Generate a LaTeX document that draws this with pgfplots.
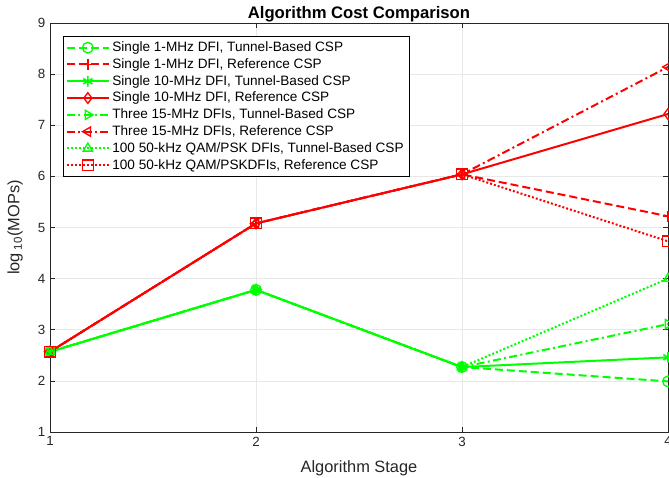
\documentclass[border=0pt]{standalone}
\usepackage{fontspec}
\setmainfont{Liberation Sans}
\usepackage{pgfplots}
\pgfplotsset{compat=1.18}
\definecolor{axgray}{gray}{0.15}
\definecolor{mgreen}{rgb}{0,1,0}
\definecolor{mred}{rgb}{1,0,0}
\begin{document}
\begin{tikzpicture}
\useasboundingbox (0,0) rectangle (501.75pt,358.5pt);
\begin{axis}[
  at={(37.5pt,34.5pt)}, anchor=south west,
  scale only axis, width=463.5pt, height=306.75pt,
  xmin=1, xmax=4, ymin=1, ymax=9,
  xtick={1,2,3,4}, ytick={1,2,3,4,5,6,7,8,9},
  grid=major, major grid style={gray!18, line width=0.5pt},
  tick align=inside, major tick length=4pt,
  axis line style={axgray, line width=0.5pt},
  tick style={axgray, line width=0.5pt},
  every tick label/.append style={text=axgray, font=\fontsize{10}{12}\selectfont},
  /pgf/number format/assume math mode=true,
  title={\fontsize{12.5}{14}\selectfont\bfseries Algorithm Cost Comparison},
  title style={at={(0.5,1)}, anchor=base, yshift=-2.25pt},
  xlabel={Algorithm Stage},
  ylabel={log\,\textsubscript{10}(MOPs)},
  label style={font=\fontsize{12.3}{14}\selectfont, text=axgray},
  xlabel style={yshift=-4pt},
  ylabel style={yshift=4.5pt},
  every axis plot/.append style={line width=1.5pt, mark size=4pt},
  legend style={at={(0.021,0.968)}, anchor=north west, draw=black, line width=0.5pt,
    font=\fontsize{10.2}{12}\selectfont, cells={anchor=west}, row sep=-0.3pt, inner sep=2pt},
  legend image code/.code={\draw[mark repeat=2,mark phase=2] plot coordinates {(0cm,0cm) (0.55cm,0cm) (1.1cm,0cm)};},
]
\addplot[mgreen, dash pattern=on 6pt off 3pt, mark=o, mark options={solid, line width=1pt}] coordinates {(1,2.57) (2,3.78) (3,2.27) (4,1.99)};
\addlegendentry{Single 1-MHz DFI, Tunnel-Based CSP}
\addplot[mred, dash pattern=on 6pt off 3pt, mark=+, mark options={solid, line width=1.2pt}] coordinates {(1,2.57) (2,5.08) (3,6.04) (4,5.22)};
\addlegendentry{Single 1-MHz DFI, Reference CSP}
\addplot[mgreen, solid, mark=asterisk, mark options={solid, line width=1.2pt}] coordinates {(1,2.57) (2,3.78) (3,2.27) (4,2.46)};
\addlegendentry{Single 10-MHz DFI, Tunnel-Based CSP}
\addplot[mred, solid, mark=diamond, mark options={solid, line width=1pt}] coordinates {(1,2.57) (2,5.08) (3,6.04) (4,7.22)};
\addlegendentry{Single 10-MHz DFI, Reference CSP}
\addplot[mgreen, dash pattern=on 6pt off 2.5pt on 1.5pt off 2.5pt, mark=triangle, mark options={solid, line width=1pt, rotate=-90}] coordinates {(1,2.57) (2,3.78) (3,2.27) (4,3.11)};
\addlegendentry{Three 15-MHz DFIs, Tunnel-Based CSP}
\addplot[mred, dash pattern=on 6pt off 2.5pt on 1.5pt off 2.5pt, mark=triangle, mark options={solid, line width=1pt, rotate=90}] coordinates {(1,2.57) (2,5.08) (3,6.04) (4,8.14)};
\addlegendentry{Three 15-MHz DFIs, Reference CSP}
\addplot[mgreen, dash pattern=on 1.5pt off 1.5pt, mark=triangle, mark options={solid, line width=1pt}] coordinates {(1,2.57) (2,3.78) (3,2.27) (4,4.00)};
\addlegendentry{100 50-kHz QAM/PSK DFIs, Tunnel-Based CSP\hspace{7pt}}
\addplot[mred, dash pattern=on 1.5pt off 1.5pt, mark=square, mark options={solid, line width=1pt}] coordinates {(1,2.57) (2,5.08) (3,6.04) (4,4.73)};
\addlegendentry{100 50-kHz QAM/PSKDFIs, Reference CSP}
\end{axis}
\end{tikzpicture}
\end{document}
